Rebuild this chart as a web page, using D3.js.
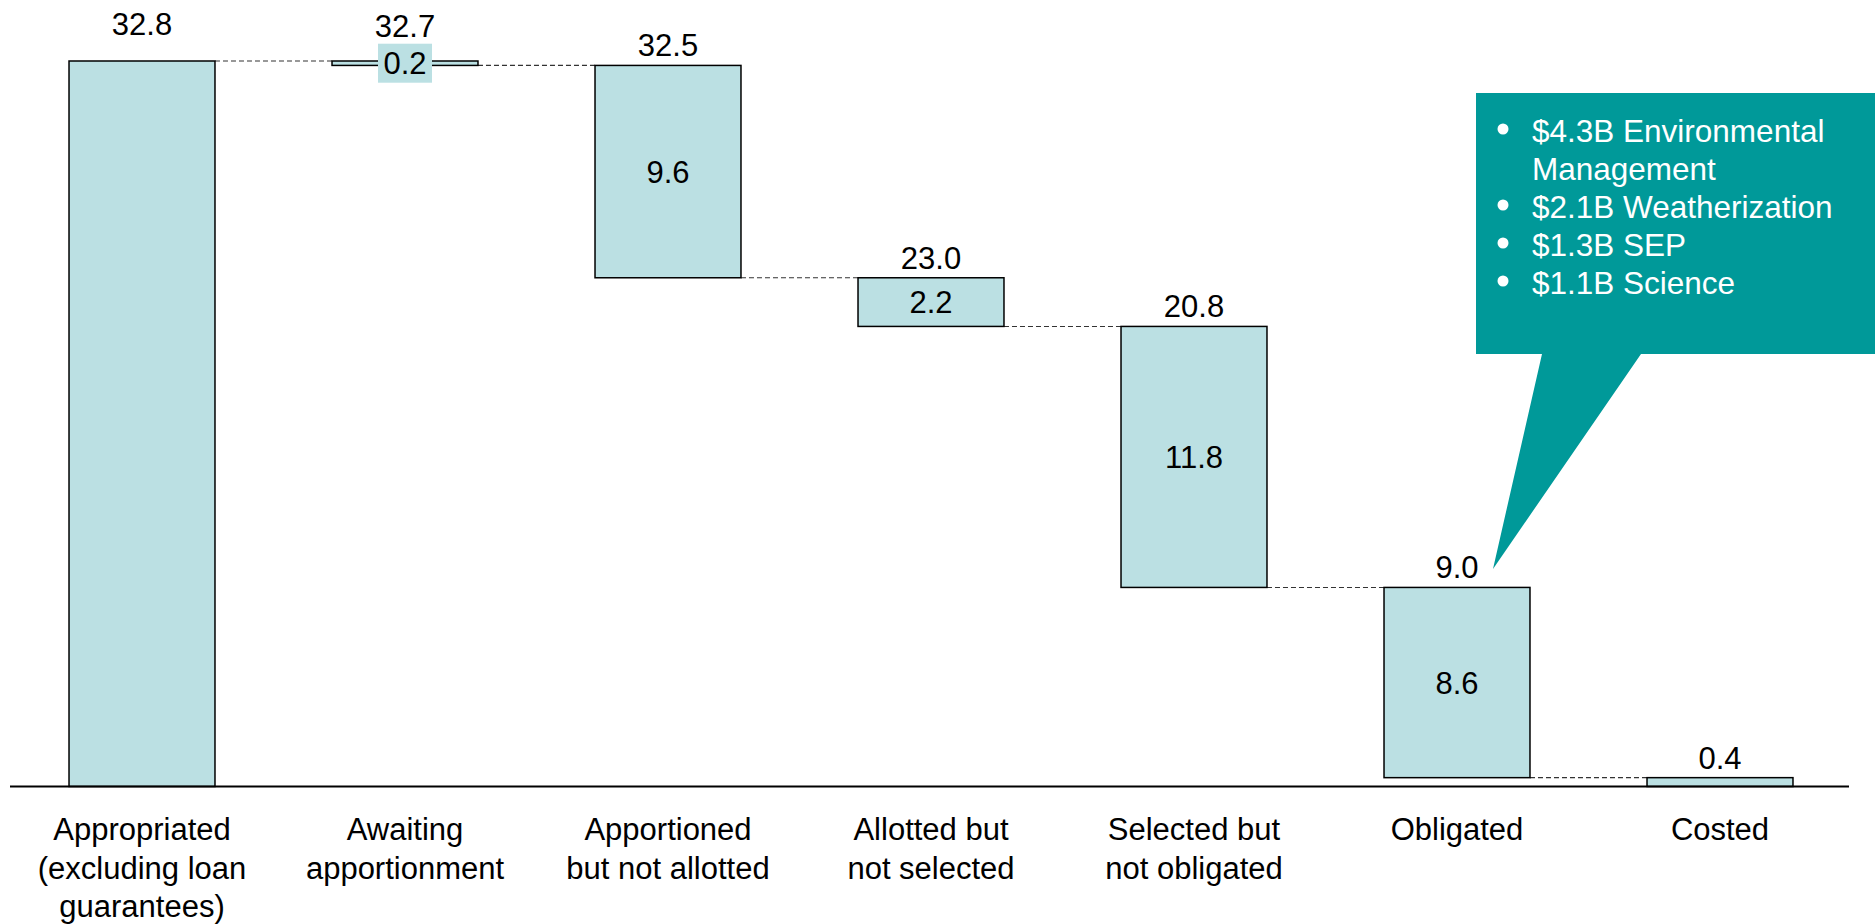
<!DOCTYPE html>
<html>
<head>
<meta charset="utf-8">
<script src="https://cdn.jsdelivr.net/npm/d3@7"></script>
<style>
html,body{margin:0;padding:0;background:#fff;}
svg{display:block;font-family:"Liberation Sans",Arial,sans-serif;}
</style>
</head>
<body>
<svg id="chart" width="1875" height="924"></svg>
<script>
// ---- data ----
const categories = [
  ["Appropriated", "(excluding loan", "guarantees)"],
  ["Awaiting", "apportionment"],
  ["Apportioned", "but not allotted"],
  ["Allotted but", "not selected"],
  ["Selected but", "not obligated"],
  ["Obligated"],
  ["Costed"]
];
const startTotal = 32.8;
const deltas = [null, 0.2, 9.6, 2.2, 11.8, 8.6, 0.4];   // drop shown by each step
const topLabels = ["32.8", "32.7", "32.5", "23.0", "20.8", "9.0", "0.4"];
const innerLabels = [null, "0.2", "9.6", "2.2", "11.8", "8.6", null];
const calloutItems = [
  ["$4.3B Environmental", "Management"],
  ["$2.1B Weatherization"],
  ["$1.3B SEP"],
  ["$1.1B Science"]
];

// ---- build bar extents ----
const bars = [];
let level = startTotal;
categories.forEach((c, i) => {
  if (i === 0) { bars.push({i, top: startTotal, bottom: 0}); }
  else if (i === categories.length - 1) { bars.push({i, top: level, bottom: 0}); }
  else { const t = level; level = +(level - deltas[i]).toFixed(2); bars.push({i, top: t, bottom: level}); }
});

const svg = d3.select("#chart");
const fill = "#BBE0E3", teal = "#009999";

const x = d3.scaleBand().domain(d3.range(categories.length))
  .range([10.5, 1851.5]).paddingInner(0.445).paddingOuter(0.2225);
const y = d3.scaleLinear().domain([0, 32.8]).range([786.5, 61]);

// connectors
for (let k = 0; k < bars.length - 1; k++) {
  const a = bars[k];
  const lv = (k === 0) ? a.top : a.bottom;
  svg.append("line")
    .attr("x1", x(k) + x.bandwidth()).attr("x2", x(k + 1))
    .attr("y1", y(lv)).attr("y2", y(lv))
    .attr("stroke", "#333").attr("stroke-width", 1.1).attr("stroke-dasharray", "5,3");
}

// bars
svg.selectAll("rect.bar").data(bars).join("rect").attr("class", "bar")
  .attr("x", d => x(d.i)).attr("width", x.bandwidth())
  .attr("y", d => y(d.top)).attr("height", d => y(d.bottom) - y(d.top))
  .attr("fill", fill).attr("stroke", "#000").attr("stroke-width", 1.5);

// baseline
svg.append("line").attr("x1", 10).attr("x2", 1849).attr("y1", y(0)).attr("y2", y(0))
  .attr("stroke", "#000").attr("stroke-width", 2);

// top labels
svg.selectAll("text.top").data(bars).join("text").attr("class", "top")
  .attr("x", d => x(d.i) + x.bandwidth() / 2)
  .attr("y", d => d.i < 2 ? y(startTotal) - 24 - (d.i === 0 ? 2 : 0) : y(d.top) - 9)
  .attr("text-anchor", "middle").attr("font-size", 31).attr("fill", "#000")
  .text(d => topLabels[d.i]);

// inner labels
bars.forEach(d => {
  const t = innerLabels[d.i];
  if (!t) return;
  const cx = x(d.i) + x.bandwidth() / 2, cy = (y(d.top) + y(d.bottom)) / 2;
  if (d.i === 1) {
    svg.append("rect").attr("x", cx - 27).attr("y", cy - 19.5).attr("width", 54).attr("height", 39).attr("fill", fill);
  }
  svg.append("text").attr("x", cx).attr("y", cy + 11).attr("text-anchor", "middle")
    .attr("font-size", 31).attr("fill", "#000").text(t);
});

// category labels
categories.forEach((lines, i) => {
  const t = svg.append("text").attr("text-anchor", "middle").attr("font-size", 31).attr("fill", "#000");
  lines.forEach((l, j) => t.append("tspan").attr("x", x(i) + x.bandwidth() / 2).attr("y", 840 + j * 38.5).text(l));
});

// callout
svg.append("path")
  .attr("d", "M1476,93 L1875,93 L1875,354 L1641,354 L1493,569 L1542,354 L1476,354 Z")
  .attr("fill", teal);
let row = 0;
calloutItems.forEach(item => {
  svg.append("circle").attr("cx", 1503).attr("cy", 142 + row * 38 - 13).attr("r", 5.5).attr("fill", "#fff");
  item.forEach(line => {
    svg.append("text").attr("x", 1532).attr("y", 142 + row * 38).attr("font-size", 31.5)
      .attr("fill", "#fff").text(line);
    row++;
  });
});
</script>
</body>
</html>
